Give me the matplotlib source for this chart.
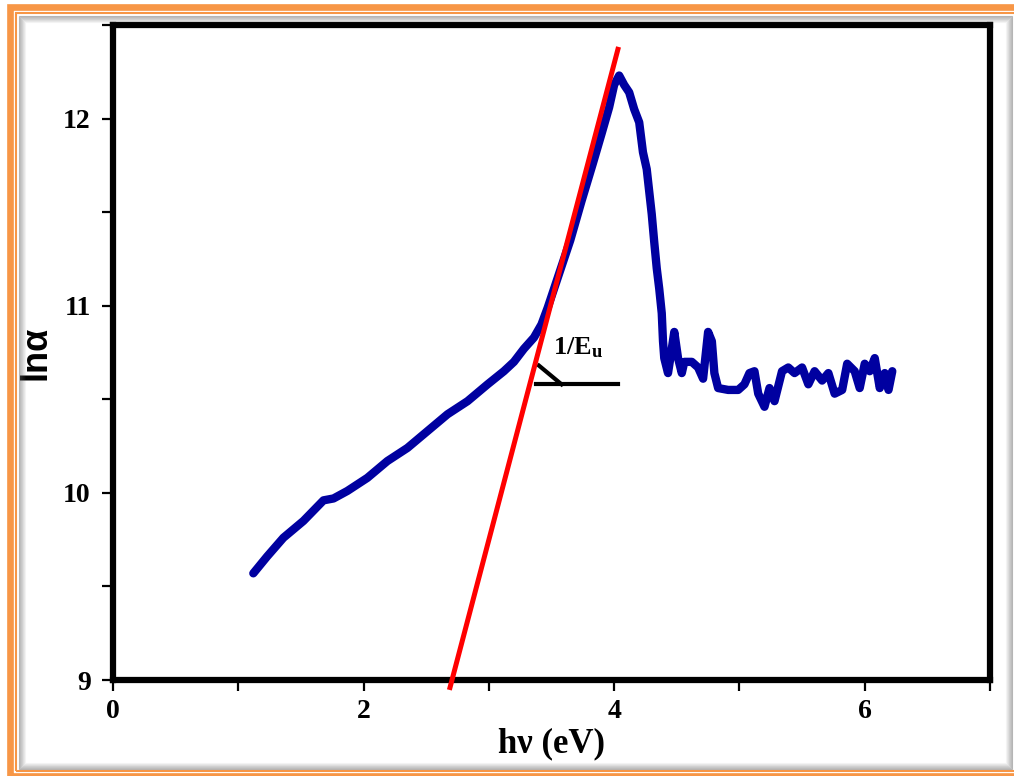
import matplotlib.pyplot as plt
from matplotlib.patches import Rectangle

# ---- data: Urbach plot, ln(alpha) vs photon energy ----
hv = [1.12, 1.23, 1.36, 1.52, 1.68, 1.76, 1.87, 2.03, 2.19, 2.35, 2.51, 2.67,
      2.83, 2.99, 3.12, 3.20, 3.28, 3.36, 3.42, 3.47, 3.55, 3.65, 3.74, 3.83,
      3.90, 3.96, 4.00, 4.04, 4.08, 4.12, 4.16, 4.20, 4.23, 4.26, 4.28, 4.30,
      4.32, 4.34, 4.36, 4.38, 4.39, 4.40, 4.43, 4.46, 4.48, 4.51, 4.54, 4.56,
      4.62, 4.67, 4.71, 4.75, 4.78, 4.80, 4.83, 4.91, 4.99, 5.04, 5.08, 5.12,
      5.15, 5.20, 5.24, 5.28, 5.34, 5.39, 5.44, 5.50, 5.55, 5.60, 5.66, 5.71,
      5.76, 5.82, 5.86, 5.92, 5.96, 6.00, 6.04, 6.08, 6.12, 6.16, 6.19, 6.22]
ln_alpha = [9.57, 9.66, 9.76, 9.85, 9.96, 9.97, 10.01, 10.08, 10.17, 10.24, 10.33, 10.42,
            10.49, 10.58, 10.65, 10.70, 10.77, 10.83, 10.90, 10.99, 11.15, 11.35, 11.56, 11.76,
            11.92, 12.06, 12.18, 12.23, 12.18, 12.14, 12.05, 11.98, 11.82, 11.73, 11.61, 11.49,
            11.34, 11.20, 11.09, 10.96, 10.81, 10.72, 10.64, 10.77, 10.86, 10.72, 10.64, 10.70,
            10.70, 10.67, 10.61, 10.86, 10.81, 10.64, 10.56, 10.55, 10.55, 10.58, 10.64, 10.65,
            10.53, 10.46, 10.56, 10.49, 10.65, 10.67, 10.64, 10.67, 10.58, 10.65, 10.60, 10.64,
            10.53, 10.55, 10.69, 10.65, 10.56, 10.69, 10.65, 10.72, 10.56, 10.64, 10.55, 10.65]

# linear fit of the absorption edge
fit_x = [2.69, 4.03]
fit_y = [8.96, 12.37]

# slope marker (horizontal reference + angle arm)
ref_x = [3.38, 4.03]
ref_y = [10.58, 10.58]
arm_x = [3.40, 3.58]
arm_y = [10.68, 10.58]

xticks = [0, 1, 2, 3, 4, 5, 6, 7]
xticklabels = ["0", "", "2", "", "4", "", "6", ""]
yticks = [9, 9.5, 10, 10.5, 11, 11.5, 12, 12.5]
yticklabels = ["9", "", "10", "", "11", "", "12", ""]

plt.rcParams["mathtext.fontset"] = "custom"
plt.rcParams["mathtext.bf"] = "Liberation Serif:bold"
plt.rcParams["mathtext.rm"] = "Liberation Serif"

W, H = 1014, 776
fig = plt.figure(figsize=(W / 100, H / 100), dpi=100)
ax = fig.add_axes([113 / W, 1 - 680 / H, (990 - 113) / W, (680 - 25) / H])

ax.plot(hv, ln_alpha, color="#0000A0", lw=6, solid_joinstyle="round",
        solid_capstyle="round")
ax.plot(fit_x, fit_y, color="#FF0000", lw=3.6, clip_on=False, zorder=3)
ax.plot(ref_x, ref_y, color="black", lw=3.0)
ax.plot(arm_x, arm_y, color="black", lw=3.0)
ax.text(3.51, 10.74, r"$\mathbf{1/E_u}$", fontsize=19)

ax.set_xlim(0, 7)
ax.set_ylim(9, 12.5)
ax.set_xticks(xticks)
ax.set_xticklabels(xticklabels)
ax.set_yticks(yticks)
ax.set_yticklabels(yticklabels)
for lab in ax.get_xticklabels() + ax.get_yticklabels():
    lab.set_fontfamily("Liberation Serif")
    lab.set_fontweight("bold")
    lab.set_fontsize(20)
ax.tick_params(direction="out", length=8, width=1.6)
ax.tick_params(axis="x", pad=6)
ax.tick_params(axis="y", pad=8)

for sp in ax.spines.values():
    sp.set_linewidth(4.5)

ax.set_xlabel("h\u03bd (eV)", family="Liberation Serif", fontweight="bold",
              fontsize=25, labelpad=2)
ax.set_ylabel("ln\u03b1", family="Liberation Sans", fontweight="bold",
              fontsize=26, labelpad=7)


# page-style frame around the figure
def frame(x0, y0, x1, y1, color, lw, alpha=1.0):
    fig.add_artist(Rectangle((x0 / W, 1 - y1 / H), (x1 - x0) / W, (y1 - y0) / H,
                             transform=fig.transFigure, fill=False, ec=color,
                             lw=lw, alpha=alpha, clip_on=False))


for i in range(7):
    frame(19 + i, 16 + i, 1012 - i, 769 - i, "#606060", 0.8, alpha=0.45 * (1 - i / 7))
frame(10, 6.5, 1040, 775.5, "#F79646", 4.8)
frame(16, 13, 1040, 771, "#F79646", 1.5)

fig.savefig("out.png", dpi=100)
plt.close(fig)
